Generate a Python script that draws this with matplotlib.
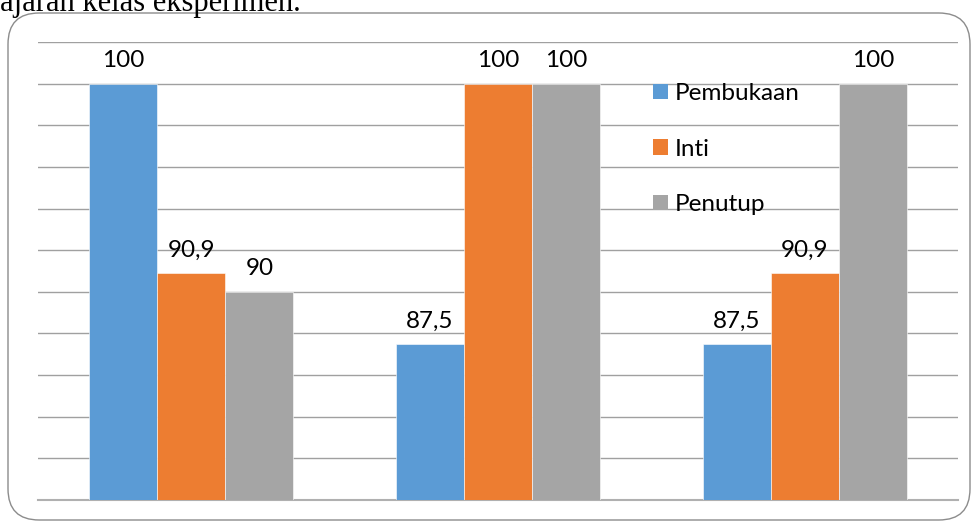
import matplotlib.pyplot as plt
from matplotlib.patches import FancyBboxPatch
import numpy as np

categories = ["Pertemuan 1", "Pertemuan 2", "Pertemuan 3"]
series = ["Pembukaan", "Inti", "Penutup"]
pembukaan = [100, 87.5, 87.5]
inti = [90.9, 100, 90.9]
penutup = [90, 100, 100]
labels = [["100", "87,5", "87,5"], ["90,9", "100", "90,9"], ["90", "100", "100"]]
colors = ["#5B9BD5", "#ED7D31", "#A5A5A5"]

W, H = 974, 522
fig = plt.figure(figsize=(W / 100, H / 100), dpi=100)

# rounded chart border
border = FancyBboxPatch((8 / W, 2 / H), (970 - 8) / W, (509 - 2) / H,
                        boxstyle="round,pad=0,rounding_size=0.032",
                        transform=fig.transFigure, facecolor="none",
                        edgecolor="#8C8C8C", linewidth=1.0,
                        mutation_aspect=W / H, zorder=-1)
fig.patches.append(border)

# page text cut off above the chart
fig.text(0, 1 - 11 / H, "ajaran kelas eksperimen.", family="Liberation Serif",
         fontsize=22, va="baseline", ha="left", zorder=5)

ax = fig.add_axes([38 / W, 1 - 500 / H, (958 - 38) / W, (500 - 42) / H])
ax.set_facecolor("none")

x = np.arange(len(categories))
w = 0.222
for i, (vals, name) in enumerate(zip([pembukaan, inti, penutup], series)):
    pos = x + (i - 1) * w
    ax.bar(pos, [v - 80 for v in vals], w, bottom=80, color=colors[i],
           edgecolor="white", linewidth=0.4, label=name, zorder=3)
    for px, v, lab in zip(pos, vals, labels[i]):
        ax.annotate(lab, (px, v), xytext=(0, 9), textcoords="offset points",
                    ha="center", va="bottom", fontsize=17.5, family="Lato")

ax.set_ylim(80, 102)
ax.set_xlim(-0.5, 2.5)
ax.set_yticks(np.arange(80, 103, 2))
ax.grid(axis="y", color="#A0A0A0", linewidth=1.0, zorder=0)
ax.set_xticks([])
ax.tick_params(axis="y", length=0, labelleft=False)
for s in ["top", "right", "left"]:
    ax.spines[s].set_visible(False)
ax.spines["bottom"].set_color("#B0B0B0")
ax.spines["bottom"].set_linewidth(1.5)

leg = ax.legend(loc="upper left", bbox_to_anchor=(615 / 920, (500 - 83) / 458),
                frameon=False, prop={"family": "Lato", "size": 17.5},
                handlelength=0.6, handleheight=0.6, handletextpad=0.3,
                labelspacing=1.42, borderaxespad=0, borderpad=0)
for h in leg.legend_handles:
    h.set_edgecolor("none")

fig.savefig("out.png", dpi=100)
